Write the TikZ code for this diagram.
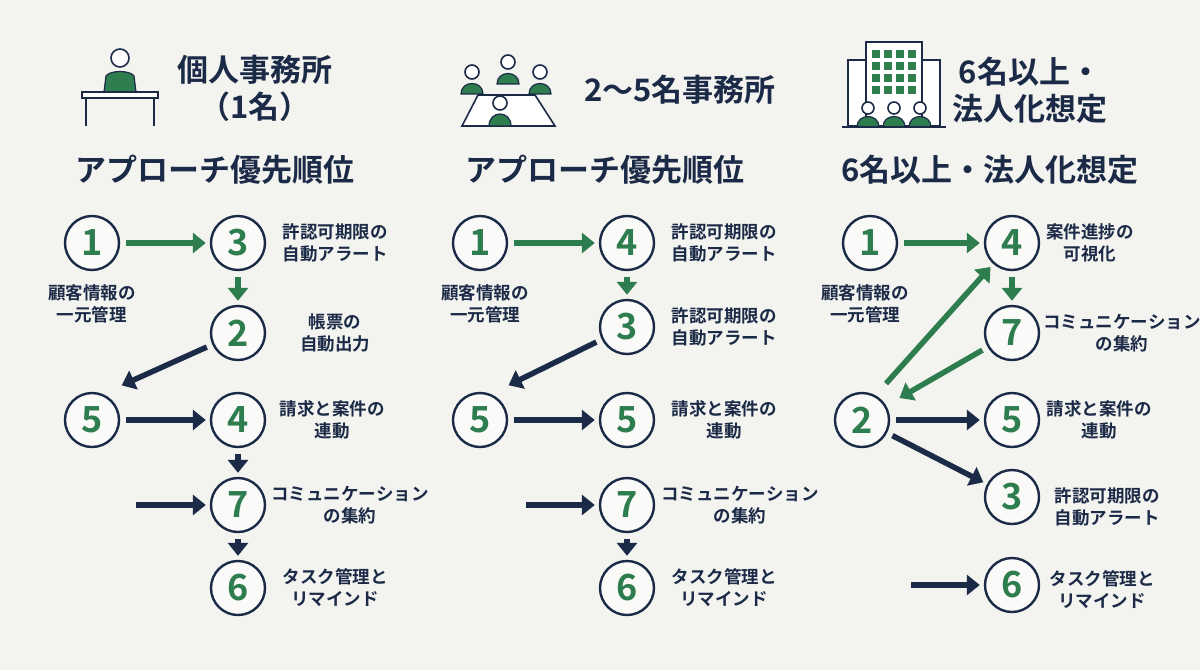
\documentclass[tikz,border=0pt]{standalone}
\usepackage{fontspec}
\setmainfont{Noto Sans CJK JP Bold}
\usetikzlibrary{arrows.meta}
\definecolor{navy}{HTML}{1B2A47}
\definecolor{grn}{HTML}{2E7D4F}
\definecolor{bg}{HTML}{F3F3EF}
\tikzset{
 num/.style={circle,draw=navy,line width=2.4pt,fill=white!60!bg,minimum size=54pt,inner sep=0pt,text=grn,font=\fontsize{36}{36}\selectfont},
 lab/.style={text=navy,font=\fontsize{17.5}{22}\selectfont,align=center},
 ttl/.style={text=navy,font=\fontsize{31}{36}\selectfont},
 hdr/.style={text=navy,font=\fontsize{31}{37}\selectfont,align=center},
 ga/.style={draw=grn,line width=5.5pt,shorten <=6pt,shorten >=4pt,-{Triangle[length=13pt,width=20pt]}},
 na/.style={draw=navy,line width=5.5pt,shorten <=6pt,shorten >=4pt,-{Triangle[length=13pt,width=20pt]}},
 ic/.style={draw=navy,line width=1.6pt},
 pers/.style={fill=grn,draw=navy,line width=1.2pt}
}
\begin{document}
\begin{tikzpicture}[x=1pt,y=-1pt]
\fill[bg] (0,0) rectangle (1200,670);
\useasboundingbox (0,0) rectangle (1200,670);
% ---- icons
% col1
\draw[ic,fill=white] (120,58) circle (9);
\draw[pers] (104,92) -- (106,76) .. controls (110,70) and (130,70) .. (134,76) -- (136,92) -- cycle;
\draw[ic,fill=white] (82,92) rectangle (158,98);
\draw[ic] (86,98) -- (86,126) (154,98) -- (154,126);
% col2
\foreach \px/\py in {472/72,508/62,540/72}{
 \draw[ic,fill=white] (\px,\py) circle (7);
 \draw[pers] (\px-11,\py+22) .. controls (\px-11,\py+8) and (\px+11,\py+8) .. (\px+11,\py+22) -- cycle;}
\draw[ic,fill=white] (478,95) -- (535,95) -- (555,126) -- (462,126) -- cycle;
\draw[ic,fill=white] (500,103) circle (7);
\draw[pers] (489,126) .. controls (489,110) and (511,110) .. (511,126) -- cycle;
% col3
\draw[ic,fill=white] (848,60) rectangle (870,126);
\draw[ic,fill=white] (918,60) rectangle (940,126);
\draw[ic,fill=white] (866,42) rectangle (922,126);
\foreach \i in {0,1,2,3}{\foreach \j in {0,1,2,3}{\fill[grn] (872+\i*12,50+\j*12) rectangle +(8,8);}}
\foreach \px in {868,894,920}{
 \draw[ic,fill=white] (\px,108) circle (6);
 \draw[pers] (\px-11,127) .. controls (\px-11,113) and (\px+11,113) .. (\px+11,127) -- cycle;}
\draw[ic] (842,127) -- (946,127);
% ---- headers
\node[hdr] (h1) at (255,88) {個人事務所\\（1名）};
\node[hdr] (h2) at (680,90) {2〜5名事務所};
\node[hdr] (h3) at (1030,90) {6名以上・\\法人化想定};
\node[ttl] (t1) at (215,170) {アプローチ優先順位};
\node[ttl] (t2) at (605,170) {アプローチ優先順位};
\node[ttl] (t3) at (990,170) {6名以上・法人化想定};
% ---- column 1
\node[num] (a1) at (92,243) {1};
\node[num] (a3) at (238,243) {3};
\node[num] (a2) at (238,333) {2};
\node[num] (a5) at (92,420) {5};
\node[num] (a4) at (238,420) {4};
\node[num] (a7) at (238,505) {7};
\node[num] (a6) at (238,588) {6};
\node[lab] at (92,304) {顧客情報の\\一元管理};
\node[lab] at (335,243) {許認可期限の\\自動アラート};
\node[lab] at (335,333) {帳票の\\自動出力};
\node[lab] at (332,420) {請求と案件の\\連動};
\node[lab] at (350,505) {コミュニケーション\\の集約};
\node[lab] at (335,588) {タスク管理と\\リマインド};
\coordinate (af) at (130,505);
\draw[ga] (a1) -- (a3);
\draw[ga] (a3) -- (a2);
\draw[na] (a2) -- (118,387);
\draw[na] (a5) -- (a4);
\draw[na] (a4) -- (a7);
\draw[na] (af) -- (a7);
\draw[na] (a7) -- (a6);
% ---- column 2
\node[num] (b1) at (480,243) {1};
\node[num] (b4) at (627,243) {4};
\node[num] (b3) at (627,327) {3};
\node[num] (b5) at (480,420) {5};
\node[num] (b5b) at (627,420) {5};
\node[num] (b7) at (627,505) {7};
\node[num] (b6) at (627,588) {6};
\node[lab] at (485,304) {顧客情報の\\一元管理};
\node[lab] at (724,243) {許認可期限の\\自動アラート};
\node[lab] at (724,327) {許認可期限の\\自動アラート};
\node[lab] at (724,420) {請求と案件の\\連動};
\node[lab] at (740,505) {コミュニケーション\\の集約};
\node[lab] at (724,588) {タスク管理と\\リマインド};
\coordinate (bf) at (520,505);
\draw[ga] (b1) -- (b4);
\draw[ga] (b4) -- (b3);
\draw[na] (b3) -- (505,387);
\draw[na] (b5) -- (b5b);
\draw[na] (bf) -- (b7);
\draw[na] (b7) -- (b6);
% ---- column 3
\node[num] (c1) at (870,243) {1};
\node[num] (c4) at (1012,243) {4};
\node[num] (c7) at (1012,333) {7};
\node[num] (c2) at (862,420) {2};
\node[num] (c5) at (1012,420) {5};
\node[num] (c3) at (1012,497) {3};
\node[num] (c6) at (1012,585) {6};
\node[lab] at (865,304) {顧客情報の\\一元管理};
\node[lab] at (1090,243) {案件進捗の\\可視化};
\node[lab] at (1122,333) {コミュニケーション\\の集約};
\node[lab] at (1099,420) {請求と案件の\\連動};
\node[lab] at (1107,507) {許認可期限の\\自動アラート};
\node[lab] at (1102,590) {タスク管理と\\リマインド};
\coordinate (cs) at (882,388);
\coordinate (ce) at (896,400);
\coordinate (cf) at (905,585);
\draw[ga] (c1) -- (c4);
\draw[ga] (c4) -- (c7);
\draw[ga] (cs) -- (c4);
\draw[ga] (c7) -- (ce);
\draw[na] (c2) -- (c5);
\draw[na] (c2) -- (c3);
\draw[na] (cf) -- (c6);
\end{tikzpicture}
\end{document}
